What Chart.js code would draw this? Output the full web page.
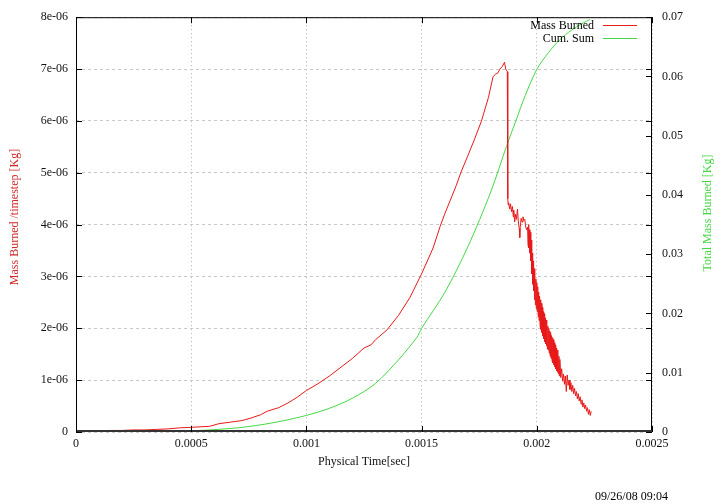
<!DOCTYPE html>
<html>
<head>
<meta charset="utf-8">
<script src="https://cdn.jsdelivr.net/npm/chart.js@4/dist/chart.umd.min.js"></script>
<style>
  html, body { margin: 0; padding: 0; background: #fff; }
  #wrap { width: 720px; height: 504px; }
</style>
</head>
<body>
<div id="wrap"><canvas id="myChart" width="720" height="504"></canvas></div>
<script>
// time [sec] and mass burned per timestep [Kg]
const massTime = [
  0, 0.00005, 0.0001, 0.00015, 0.0002, 0.00025, 0.0003, 0.00035, 0.0004, 0.00045,
  0.0005, 0.00058, 0.00062, 0.00067, 0.00072, 0.00076, 0.0008, 0.00083, 0.00088, 0.00092,
  0.00096, 0.001, 0.00105, 0.0011, 0.00115, 0.0012, 0.00125, 0.00128, 0.0013, 0.00135,
  0.0014, 0.00145, 0.0015, 0.00155, 0.00158, 0.0016, 0.00165, 0.00167, 0.0017, 0.00173,
  0.00176, 0.00179, 0.00181, 0.00182, 0.00183, 0.00184, 0.00185, 0.00186, 0.001865, 0.001872,
  0.001874, 0.001876, 0.001878, 0.001882, 0.001886, 0.00189, 0.001894, 0.001898, 0.0019, 0.001904,
  0.001908, 0.001912, 0.001916, 0.00192, 0.001924, 0.001926, 0.001928, 0.001932, 0.001936, 0.00194,
  0.001944, 0.001948, 0.001952, 0.001956,
  0.00196, 0.001962, 0.001964, 0.001966, 0.001968, 0.00197, 0.001972, 0.001974, 0.001976, 0.001978,
  0.00198, 0.001982, 0.001984, 0.001986, 0.001988, 0.00199, 0.001992, 0.001994, 0.001996, 0.001998,
  0.002, 0.002002, 0.002004, 0.002006, 0.002008, 0.00201, 0.002012, 0.002014, 0.002016, 0.002018,
  0.00202, 0.002022, 0.002024, 0.002026, 0.002028, 0.00203, 0.002032, 0.002034, 0.002036, 0.002038,
  0.00204, 0.002042, 0.002044, 0.002046, 0.002048, 0.00205, 0.002052, 0.002054, 0.002056, 0.002058,
  0.00206, 0.002062, 0.002064, 0.002066, 0.002068, 0.00207, 0.002072, 0.002074, 0.002076, 0.002078,
  0.00208, 0.002082, 0.002084, 0.002086, 0.002088, 0.00209, 0.002092, 0.002094, 0.002096, 0.002098,
  0.0021, 0.002104, 0.002108, 0.002112, 0.002116, 0.00212, 0.002124, 0.002128, 0.002132, 0.002136,
  0.00214, 0.002144, 0.002148, 0.002152, 0.002156, 0.00216, 0.002164, 0.002168, 0.002172, 0.002176,
  0.00218, 0.002184, 0.002188, 0.002192, 0.002196, 0.0022, 0.002204, 0.002208, 0.002212, 0.002216,
  0.00222, 0.002224, 0.002228, 0.002232, 0.002236
];
const massBurned = [
  0.02e-6, 0.02e-6, 0.02e-6, 0.03e-6, 0.03e-6, 0.04e-6, 0.04e-6, 0.05e-6, 0.06e-6, 0.08e-6,
  0.09e-6, 0.11e-6, 0.16e-6, 0.19e-6, 0.22e-6, 0.27e-6, 0.33e-6, 0.40e-6, 0.47e-6, 0.56e-6,
  0.67e-6, 0.80e-6, 0.93e-6, 1.08e-6, 1.25e-6, 1.42e-6, 1.62e-6, 1.68e-6, 1.78e-6, 1.97e-6,
  2.25e-6, 2.60e-6, 3.05e-6, 3.55e-6, 3.96e-6, 4.20e-6, 4.75e-6, 5.00e-6, 5.32e-6, 5.65e-6,
  6.00e-6, 6.45e-6, 6.85e-6, 6.90e-6, 6.92e-6, 7.00e-6, 7.05e-6, 7.13e-6, 7.00e-6, 6.95e-6,
  4.50e-6, 4.38e-6, 4.42e-6, 4.30e-6, 4.40e-6, 4.25e-6, 4.35e-6, 4.15e-6, 4.28e-6, 4.05e-6,
  4.20e-6, 4.10e-6, 4.30e-6, 4.05e-6, 3.92e-6, 3.75e-6, 3.95e-6, 4.12e-6, 4.05e-6, 4.15e-6,
  4.08e-6, 4.10e-6, 3.95e-6, 3.90e-6,
  3.95e-6, 3.60e-6, 4.00e-6, 3.55e-6, 3.90e-6, 3.45e-6, 3.85e-6, 3.30e-6, 3.70e-6, 3.05e-6,
  3.45e-6, 2.85e-6, 3.30e-6, 2.72e-6, 3.15e-6, 2.55e-6, 3.05e-6, 2.45e-6, 2.95e-6, 2.38e-6,
  2.88e-6, 2.32e-6, 2.80e-6, 2.22e-6, 2.70e-6, 2.15e-6, 2.62e-6, 2.06e-6, 2.55e-6, 1.98e-6,
  2.48e-6, 1.92e-6, 2.40e-6, 1.85e-6, 2.32e-6, 1.80e-6, 2.28e-6, 1.74e-6, 2.20e-6, 1.70e-6,
  2.16e-6, 1.66e-6, 2.10e-6, 1.60e-6, 2.04e-6, 1.58e-6, 2.00e-6, 1.52e-6, 1.95e-6, 1.46e-6,
  1.92e-6, 1.42e-6, 1.86e-6, 1.38e-6, 1.82e-6, 1.34e-6, 1.78e-6, 1.30e-6, 1.72e-6, 1.26e-6,
  1.68e-6, 1.22e-6, 1.62e-6, 1.18e-6, 1.58e-6, 1.15e-6, 1.52e-6, 1.12e-6, 1.46e-6, 1.08e-6,
  1.40e-6, 1.05e-6, 1.22e-6, 0.98e-6, 1.12e-6, 0.92e-6, 1.08e-6, 0.78e-6, 1.10e-6, 0.90e-6,
  1.00e-6, 0.82e-6, 0.95e-6, 0.78e-6, 0.90e-6, 0.74e-6, 0.84e-6, 0.70e-6, 0.78e-6, 0.64e-6,
  0.74e-6, 0.60e-6, 0.68e-6, 0.54e-6, 0.62e-6, 0.48e-6, 0.56e-6, 0.45e-6, 0.52e-6, 0.40e-6,
  0.47e-6, 0.34e-6, 0.43e-6, 0.32e-6, 0.40e-6
];

// time [sec] and cumulative mass burned [Kg]
const cumTime = [
  0, 0.0002, 0.0004, 0.0005, 0.0006, 0.0007, 0.0008, 0.0009, 0.001, 0.0011,
  0.0012, 0.0013, 0.0014, 0.00148, 0.0015, 0.0016, 0.0017, 0.0018, 0.00187, 0.00191,
  0.00195, 0.002, 0.00205, 0.0021, 0.00215, 0.0022, 0.00223
];
const cumSum = [
  0, 0.00003, 0.0001, 0.0002, 0.0004, 0.0007, 0.0012, 0.0019, 0.0028, 0.004,
  0.0057, 0.0082, 0.0122, 0.016, 0.0175, 0.0235, 0.0312, 0.0405, 0.0484, 0.0526,
  0.0568, 0.0612, 0.064, 0.0662, 0.0678, 0.069, 0.0696
];

const xTicks = [0, 0.0005, 0.001, 0.0015, 0.002, 0.0025];
const xTickLabels = ["0", "0.0005", "0.001", "0.0015", "0.002", "0.0025"];
const yTicks = [0, 1e-6, 2e-6, 3e-6, 4e-6, 5e-6, 6e-6, 7e-6, 8e-6];
const yTickLabels = ["0", "1e-06", "2e-06", "3e-06", "4e-06", "5e-06", "6e-06", "7e-06", "8e-06"];
const y2Ticks = [0, 0.01, 0.02, 0.03, 0.04, 0.05, 0.06, 0.07];
const y2TickLabels = ["0", "0.01", "0.02", "0.03", "0.04", "0.05", "0.06", "0.07"];
const seriesNames = ["Mass Burned", "Cum. Sum"];

const RED = "#e81a1a";
const GREEN = "#44d844";
const FONT = "'Liberation Serif', 'Times New Roman', serif";

const toPoints = (xs, ys) => xs.map((x, i) => ({ x: x, y: ys[i] }));
const fixTicks = (vals) => (scale) => { scale.ticks = vals.map((v) => ({ value: v })); };

const extras = {
  id: "extras",
  afterDraw(chart) {
    const ctx = chart.ctx;
    const a = chart.chartArea;
    const sx = chart.scales.x, sy = chart.scales.y, sy2 = chart.scales.y2;
    ctx.save();
    ctx.setLineDash([]);
    // border
    ctx.strokeStyle = "#000";
    ctx.lineWidth = 1;
    ctx.strokeRect(a.left + 0.5, a.top + 0.5, a.right - a.left - 1, a.bottom - a.top - 1);
    ctx.lineWidth = 2;
    ctx.strokeStyle = "#333";
    ctx.beginPath();
    ctx.moveTo(a.left, a.bottom - 1);
    ctx.lineTo(a.right, a.bottom - 1);
    ctx.stroke();
    // inward tick marks
    ctx.lineWidth = 1;
    ctx.strokeStyle = "#000";
    ctx.beginPath();
    xTicks.forEach((v) => {
      const px = Math.round(sx.getPixelForValue(v)) + 0.5;
      ctx.moveTo(px, a.bottom); ctx.lineTo(px, a.bottom - 6);
      ctx.moveTo(px, a.top); ctx.lineTo(px, a.top + 6);
    });
    yTicks.forEach((v) => {
      const py = Math.round(sy.getPixelForValue(v)) + 0.5;
      ctx.moveTo(a.left, py); ctx.lineTo(a.left + 6, py);
      ctx.moveTo(a.right, py); ctx.lineTo(a.right - 6, py);
    });
    y2Ticks.forEach((v) => {
      const py = Math.round(sy2.getPixelForValue(v)) + 0.5;
      ctx.moveTo(a.right, py); ctx.lineTo(a.right - 6, py);
    });
    ctx.stroke();

    // legend, top right inside the plot
    ctx.font = "12px " + FONT;
    ctx.textBaseline = "middle";
    [RED, GREEN].forEach((c, i) => {
      const y = 26 + i * 13;
      ctx.textAlign = "right";
      ctx.fillStyle = "#000";
      ctx.fillText(seriesNames[i], 594, y);
      ctx.lineWidth = 1.2;
      ctx.strokeStyle = c;
      ctx.beginPath();
      ctx.moveTo(603, y - 0.5);
      ctx.lineTo(637, y - 0.5);
      ctx.stroke();
    });

    // rotated axis titles
    ctx.textAlign = "center";
    ctx.fillStyle = "#d02828";
    ctx.translate(15, 217);
    ctx.rotate(-Math.PI / 2);
    ctx.fillText("Mass Burned /timestep [Kg]", 0, 0);
    ctx.setTransform(1, 0, 0, 1, 0, 0);
    ctx.fillStyle = GREEN;
    ctx.translate(708, 213);
    ctx.rotate(-Math.PI / 2);
    ctx.fillText("Total Mass Burned [Kg]", 0, 0);
    ctx.setTransform(1, 0, 0, 1, 0, 0);

    // time stamp
    ctx.fillStyle = "#000";
    ctx.textAlign = "left";
    ctx.fillText("09/26/08 09:04", 595, 497);
    ctx.restore();
  },
};

const config = {
  type: "line",
  data: {
    datasets: [
      {
        label: seriesNames[0],
        data: toPoints(massTime, massBurned),
        borderColor: RED,
        borderWidth: 1,
        pointRadius: 0,
        tension: 0,
        yAxisID: "y",
      },
      {
        label: seriesNames[1],
        data: toPoints(cumTime, cumSum),
        borderColor: GREEN,
        borderWidth: 1,
        pointRadius: 0,
        tension: 0.3,
        yAxisID: "y2",
      },
    ],
  },
  options: {
    responsive: false,
    animation: false,
    events: [],
    layout: { padding: { top: 15, left: 0, right: 0, bottom: 0 } },
    plugins: {
      legend: { display: false },
      tooltip: { enabled: false },
    },
    scales: {
      x: {
        type: "linear",
        min: 0,
        max: 0.0025,
        afterBuildTicks: fixTicks(xTicks),
        afterFit: (scale) => { scale.height = 72; },
        grid: { color: "#b0b0b0", drawTicks: false },
        border: { display: false, dash: [1, 3] },
        ticks: {
          padding: 5,
          color: "#111",
          font: { family: FONT, size: 12 },
          callback: (v) => xTickLabels[xTicks.indexOf(v)],
        },
        title: {
          display: true,
          text: "Physical Time[sec]",
          color: "#111",
          font: { family: FONT, size: 12 },
          padding: { top: 0, bottom: 35 },
        },
      },
      y: {
        position: "left",
        min: 0,
        max: 8e-6,
        afterBuildTicks: fixTicks(yTicks),
        afterFit: (scale) => { scale.width = 76; },
        grid: { color: "#c8c8c8", drawTicks: false },
        border: { display: false, dash: [3, 3] },
        ticks: {
          padding: 8,
          color: "#111",
          font: { family: FONT, size: 12 },
          callback: (v) => yTickLabels[yTicks.indexOf(v)],
        },
      },
      y2: {
        position: "right",
        min: 0,
        max: 0.07,
        afterBuildTicks: fixTicks(y2Ticks),
        afterFit: (scale) => { scale.width = 68; },
        grid: { display: false, drawTicks: false },
        border: { display: false },
        ticks: {
          padding: 10,
          color: "#111",
          font: { family: FONT, size: 12 },
          callback: (v) => y2TickLabels[y2Ticks.indexOf(v)],
        },
      },
    },
  },
  plugins: [extras],
};

const myChart = new Chart(document.getElementById("myChart"), config);
</script>
</body>
</html>
